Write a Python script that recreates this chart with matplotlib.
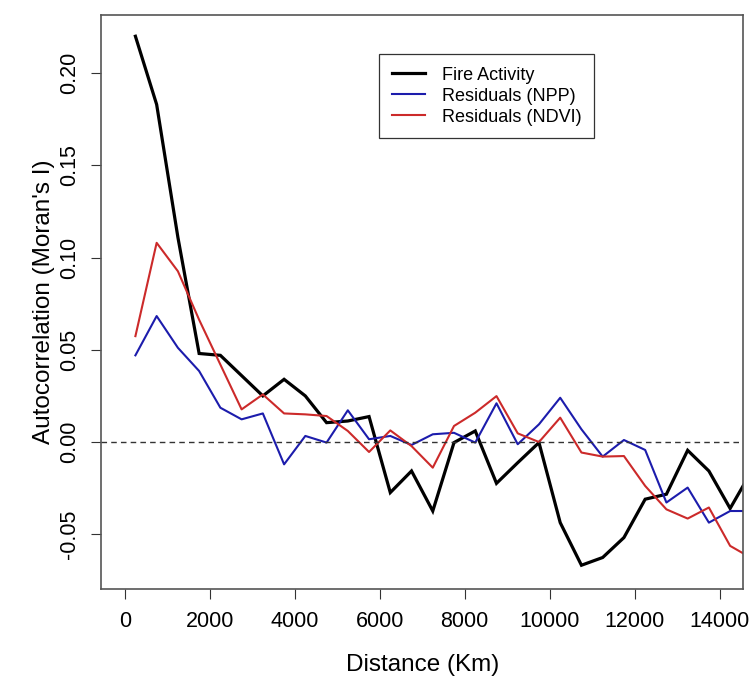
import matplotlib
matplotlib.use("Agg")
import matplotlib.pyplot as plt
import numpy as np

plt.rcParams['font.family'] = ['Liberation Sans', 'DejaVu Sans']

# Distance class midpoints (km)
distance = [250, 750, 1250, 1750, 2250, 2750, 3250, 3750, 4250, 4750,
            5250, 5750, 6250, 6750, 7250, 7750, 8250, 8750, 9250, 9750,
            10250, 10750, 11250, 11750, 12250, 12750, 13250, 13750, 14250, 14750]

fire_activity = [0.220, 0.183, 0.111, 0.048, 0.047, 0.036, 0.025, 0.034, 0.025, 0.0105,
                 0.0114, 0.0138, -0.0274, -0.0157, -0.0374, -0.0003, 0.006, -0.0224, -0.0112, -0.0003,
                 -0.0437, -0.0668, -0.0626, -0.0518, -0.031, -0.0283, -0.0045, -0.0157, -0.036, -0.016]

resid_npp = [0.047, 0.0683, 0.0511, 0.0385, 0.0186, 0.0123, 0.0155, -0.0121, 0.0033, -0.0003,
             0.0172, 0.0015, 0.0033, -0.0016, 0.0042, 0.005, -0.0003, 0.021, -0.0012, 0.0096,
             0.024, 0.0069, -0.0079, 0.0011, -0.0043, -0.0328, -0.0247, -0.0437, -0.0374, -0.0374]

resid_ndvi = [0.0574, 0.108, 0.0926, 0.0663, 0.042, 0.0177, 0.0258, 0.0155, 0.015, 0.0141,
              0.006, -0.0054, 0.0063, -0.0022, -0.0139, 0.0087, 0.0159, 0.0249, 0.0047, 0.0,
              0.0132, -0.0057, -0.0079, -0.0076, -0.0238, -0.0365, -0.0415, -0.0355, -0.0563, -0.0629]

series_labels = ["Fire Activity", "Residuals (NPP)", "Residuals (NDVI)"]
x_ticks = [0, 2000, 4000, 6000, 8000, 10000, 12000, 14000]
y_ticks = [-0.05, 0.00, 0.05, 0.10, 0.15, 0.20]
y_ticklabels = ["-0.05", "0.00", "0.05", "0.10", "0.15", "0.20"]

W, H = 753, 680
fig = plt.figure(figsize=(W / 100, H / 100), dpi=100)
left, right, top, bottom = 101, 743.3, 15, 588.7
ax = fig.add_axes([left / W, 1 - bottom / H, (right - left) / W, (bottom - top) / H])

ax.plot(distance, fire_activity, color="black", lw=2.3, label=series_labels[0],
        solid_joinstyle="miter")
ax.plot(distance, resid_npp, color="#1c1cac", lw=1.5, label=series_labels[1])
ax.plot(distance, resid_ndvi, color="#cc2a2a", lw=1.5, label=series_labels[2])
ax.axhline(0, color="#333333", lw=1.0, ls=(0, (4, 3)))

ax.set_xlim(-560, 14560)
ymin, ymax = -0.068, 0.220
r = ymax - ymin
ax.set_ylim(ymin - 0.04 * r, ymax + 0.04 * r)

ax.set_xticks(x_ticks)
ax.set_xticklabels([str(t) for t in x_ticks])
ax.set_yticks(y_ticks)
ax.set_yticklabels(y_ticklabels, rotation=90, va="center")
ax.tick_params(axis="both", direction="out", length=7, width=0.8, color="#333333",
               labelsize=15.5, pad=9)
ax.tick_params(axis="y", pad=8)

for s in ax.spines.values():
    s.set_color("#555555")
    s.set_linewidth(1.2)

ax.set_xlabel("Distance (Km)", fontsize=17.5, labelpad=16)
ax.set_ylabel("Autocorrelation (Moran's I)", fontsize=17.5, labelpad=3)

leg = ax.legend(loc="upper left", bbox_to_anchor=(379.3 / W, 1 - 54 / H),
                bbox_transform=fig.transFigure, fontsize=13, frameon=True,
                fancybox=False, edgecolor="black", borderpad=0.7,
                handlelength=1.85, handletextpad=0.9, labelspacing=0.22,
                borderaxespad=0)
leg.get_frame().set_linewidth(0.9)

fig.savefig("out.png", dpi=100)
